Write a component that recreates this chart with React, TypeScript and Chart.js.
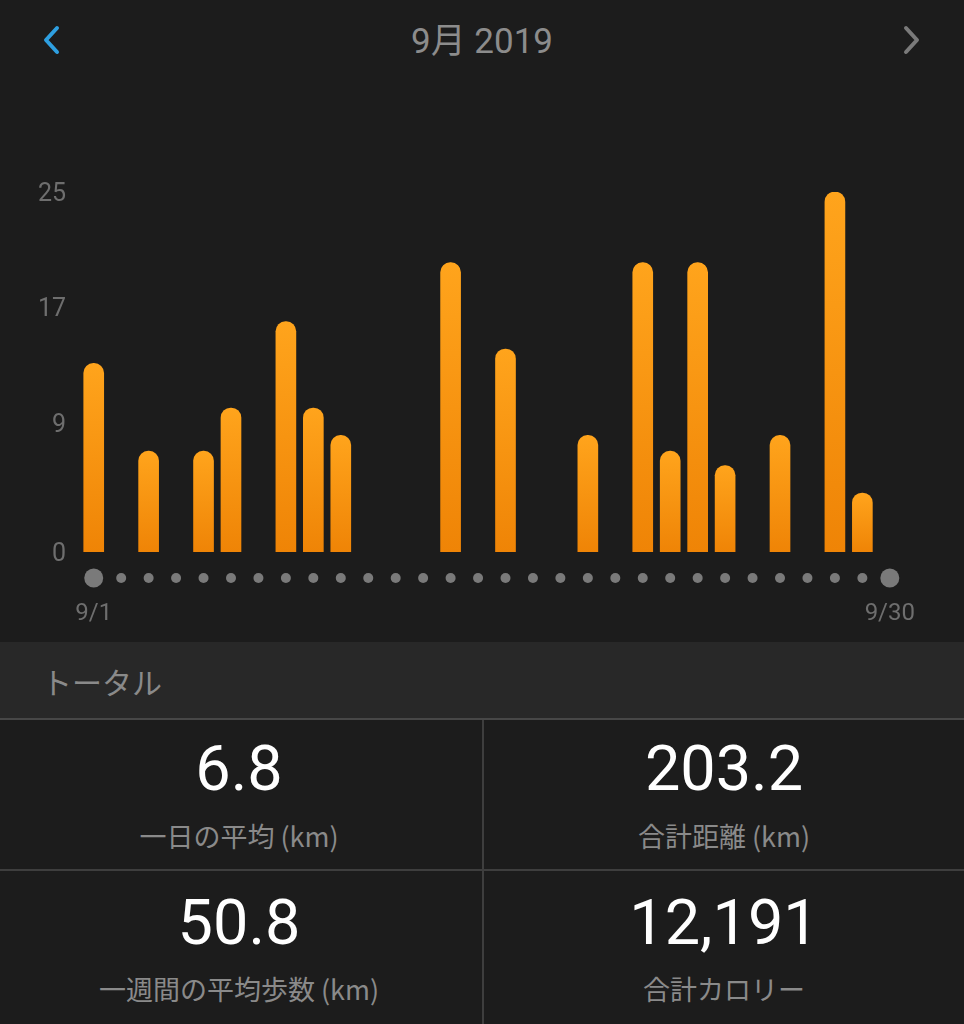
import React, { useEffect, useRef } from "react";
import { Chart, registerables } from "chart.js";

Chart.register(...registerables);

const DAYS: string[] = Array.from({ length: 30 }, (_, i) => `9/${i + 1}`);
const DISTANCE_KM: number[] = [
  13.1, 0, 7.0, 0, 7.0, 10.0, 0, 16.0, 10.0, 8.1,
  0, 0, 0, 20.1, 0, 14.1, 0, 0, 8.1, 0,
  20.1, 7.0, 20.1, 6.0, 0, 8.1, 0, 25.0, 4.1, 0,
];
const Y_TICKS: number[] = [0, 9, 17, 25];
const X_LABELS_SHOWN: string[] = ["9/1", "9/30"];
const TITLE = "9月 2019";
const SECTION = "トータル";
const STAT_VALUES: string[] = ["6.8", "203.2", "50.8", "12,191"];
const STAT_LABELS: string[] = ["一日の平均 (km)", "合計距離 (km)", "一週間の平均歩数 (km)", "合計カロリー"];

const BG = "#1c1c1c";
const LATIN = 'Roboto, "Noto Sans CJK JP", sans-serif';
const CJK = '"Noto Sans CJK JP", Roboto, sans-serif';

const dotsPlugin = {
  id: "dayDots",
  afterDraw(chart: any) {
    const { ctx, chartArea, scales } = chart;
    const xs = scales.x;
    const y = chartArea.bottom + 26;
    ctx.save();
    ctx.fillStyle = "#7a7a7a";
    for (let i = 0; i < DAYS.length; i++) {
      const x = xs.getPixelForValue(i);
      const r = i === 0 || i === DAYS.length - 1 ? 9.5 : 5;
      ctx.beginPath();
      ctx.arc(x, y, r, 0, Math.PI * 2);
      ctx.fill();
    }
    ctx.restore();
  },
};

function BarChart() {
  const ref = useRef<HTMLCanvasElement | null>(null);
  useEffect(() => {
    if (!ref.current) return;
    const chart = new Chart(ref.current, {
      type: "bar",
      data: {
        labels: DAYS,
        datasets: [
          {
            data: DISTANCE_KM,
            barThickness: 20,
            borderWidth: 0,
            borderRadius: { topLeft: 10, topRight: 10, bottomLeft: 0, bottomRight: 0 },
            borderSkipped: "bottom",
            backgroundColor: (c: any) => {
              const ch = c.chart;
              const area = ch.chartArea;
              if (c.raw == null || c.raw === 0) return "rgba(0,0,0,0)";
              if (!area) return "#f7941d";
              const ys = ch.scales.y;
              const top = ys.getPixelForValue(c.raw);
              const bottom = ys.getPixelForValue(0);
              if (!(bottom > top)) return "#f7941d";
              const g = ch.ctx.createLinearGradient(0, top, 0, bottom);
              g.addColorStop(0, "#ffa41c");
              g.addColorStop(1, "#ef8406");
              return g;
            },
          },
        ],
      },
      options: {
        animation: false,
        responsive: false,
        maintainAspectRatio: false,
        layout: { padding: { top: 42, right: 60, bottom: 0, left: 0 } },
        plugins: { legend: { display: false }, tooltip: { enabled: false } },
        scales: {
          x: {
            type: "category",
            offset: true,
            grid: { display: false, drawTicks: false },
            border: { display: false },
            afterFit: (s: any) => {
              s.height = 88;
            },
            ticks: {
              autoSkip: false,
              maxRotation: 0,
              minRotation: 0,
              padding: 48,
              color: "#6e6e6e",
              font: { family: LATIN, size: 24 },
              callback: (_v: any, i: number) =>
                X_LABELS_SHOWN.includes(DAYS[i]) ? DAYS[i] : "",
            },
          },
          y: {
            min: 0,
            max: 25,
            grid: { display: false, drawTicks: false },
            border: { display: false },
            afterFit: (s: any) => {
              s.width = 80;
            },
            afterBuildTicks: (s: any) => {
              s.ticks = Y_TICKS.map((v) => ({ value: v }));
            },
            ticks: {
              padding: 14,
              labelOffset: 3,
              color: "#6e6e6e",
              font: { family: LATIN, size: 25 },
            },
          },
        },
      },
      plugins: [dotsPlugin],
    });
    return () => chart.destroy();
  }, []);
  return (
    <canvas
      ref={ref}
      width={964}
      height={490}
      style={{ position: "absolute", left: 0, top: 150, width: 964, height: 490 }}
    />
  );
}

function Chevron({ left, color, dir }: { left: number; color: string; dir: "l" | "r" }) {
  const pts = dir === "l" ? "16,4 5,16 16,28" : "4,4 15,16 4,28";
  return (
    <svg
      width={21}
      height={32}
      style={{ position: "absolute", left, top: 24 }}
      viewBox="0 0 21 32"
    >
      <polyline points={pts} fill="none" stroke={color} strokeWidth={4} strokeLinecap="round" strokeLinejoin="round" />
    </svg>
  );
}

function Stat({ cx, vy, ly, value, label }: { cx: number; vy: number; ly: number; value: string; label: string }) {
  return (
    <>
      <div
        style={{
          position: "absolute",
          left: cx - 200,
          width: 400,
          top: vy,
          transform: "translateY(-50%)",
          textAlign: "center",
          color: "#ffffff",
          fontFamily: LATIN,
          fontSize: 63,
          lineHeight: "63px",
        }}
      >
        {value}
      </div>
      <div
        style={{
          position: "absolute",
          left: cx - 220,
          width: 440,
          top: ly,
          transform: "translateY(-50%)",
          textAlign: "center",
          color: "#8a8a8a",
          fontFamily: CJK,
          fontSize: 27,
          lineHeight: "27px",
        }}
      >
        {label}
      </div>
    </>
  );
}

export default function App() {
  useEffect(() => {
    document.body.style.margin = "0";
    document.body.style.background = BG;
  }, []);
  return (
    <div
      style={{
        position: "fixed",
        left: 0,
        top: 0,
        width: 964,
        height: 1024,
        background: BG,
        overflow: "hidden",
      }}
    >
      <Chevron left={41} color="#2e9fe0" dir="l" />
      <Chevron left={902} color="#7a7a7a" dir="r" />
      <div
        style={{
          position: "absolute",
          left: 0,
          width: 964,
          top: 41,
          transform: "translateY(-50%)",
          textAlign: "center",
          color: "#8c8c8c",
          fontFamily: LATIN,
          fontSize: 35,
          lineHeight: "35px",
        }}
      >
        {TITLE}
      </div>
      <BarChart />
      <div
        style={{
          position: "absolute",
          left: 0,
          top: 642,
          width: 964,
          height: 76,
          background: "#282828",
        }}
      />
      <div
        style={{
          position: "absolute",
          left: 42,
          top: 681,
          transform: "translateY(-50%)",
          color: "#8a8a8a",
          fontFamily: CJK,
          fontSize: 30,
          lineHeight: "30px",
        }}
      >
        {SECTION}
      </div>
      <div style={{ position: "absolute", left: 0, top: 718, width: 964, height: 2, background: "#474747" }} />
      <div style={{ position: "absolute", left: 0, top: 869, width: 964, height: 2, background: "#3e3e3e" }} />
      <div style={{ position: "absolute", left: 482, top: 720, width: 2, height: 304, background: "#3e3e3e" }} />
      <Stat cx={239} vy={768} ly={835} value={STAT_VALUES[0]} label={STAT_LABELS[0]} />
      <Stat cx={724} vy={768} ly={835} value={STAT_VALUES[1]} label={STAT_LABELS[1]} />
      <Stat cx={239} vy={922} ly={988} value={STAT_VALUES[2]} label={STAT_LABELS[2]} />
      <Stat cx={724} vy={922} ly={988} value={STAT_VALUES[3]} label={STAT_LABELS[3]} />
    </div>
  );
}
